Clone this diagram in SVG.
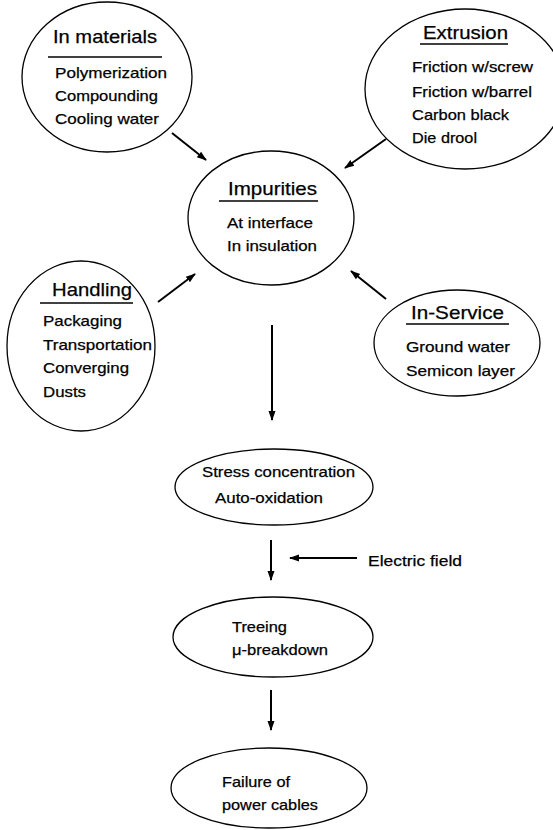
<svg xmlns="http://www.w3.org/2000/svg" width="553" height="830" viewBox="0 0 553 830">
<defs>
<style>
.n{fill:none;stroke:#000;stroke-width:1.3}
.t{font-family:"Liberation Sans",Arial,sans-serif;font-size:15px;fill:#000;stroke:#000;stroke-width:0.25}
.h{font-family:"Liberation Sans",Arial,sans-serif;font-size:19px;fill:#000;stroke:#000;stroke-width:0.25}
.u{stroke:#000;stroke-width:1.3}
.c{stroke:#000;stroke-width:2;fill:none;marker-end:url(#ah)}
</style>
<marker id="ah" viewBox="0 0 10 10" refX="9" refY="5" markerWidth="5" markerHeight="5" orient="auto" markerUnits="strokeWidth">
<path d="M0,1.5 L10,5 L0,8.5 Z" fill="#000"/>
</marker>
</defs>
<rect width="553" height="830" fill="#fff"/>
<g id="in-materials">
<ellipse class="n" cx="107" cy="77" rx="85" ry="75"/>
<text class="h" x="53" y="43" textLength="104" lengthAdjust="spacingAndGlyphs">In materials</text>
<line class="u" x1="48" y1="57" x2="162" y2="57"/>
<text class="t" x="55" y="78" textLength="112" lengthAdjust="spacingAndGlyphs">Polymerization</text>
<text class="t" x="55" y="101" textLength="103" lengthAdjust="spacingAndGlyphs">Compounding</text>
<text class="t" x="55" y="124" textLength="104" lengthAdjust="spacingAndGlyphs">Cooling water</text>
</g>
<g id="extrusion">
<ellipse class="n" cx="465" cy="89" rx="100" ry="80"/>
<text class="h" x="423" y="39" textLength="85" lengthAdjust="spacingAndGlyphs">Extrusion</text>
<line class="u" x1="420" y1="44" x2="508" y2="44"/>
<text class="t" x="412" y="72" textLength="121" lengthAdjust="spacingAndGlyphs">Friction w/screw</text>
<text class="t" x="412" y="97" textLength="120" lengthAdjust="spacingAndGlyphs">Friction w/barrel</text>
<text class="t" x="412" y="120" textLength="97" lengthAdjust="spacingAndGlyphs">Carbon black</text>
<text class="t" x="412" y="143" textLength="65" lengthAdjust="spacingAndGlyphs">Die drool</text>
</g>
<g id="impurities">
<ellipse class="n" cx="271" cy="218" rx="83" ry="67"/>
<text class="h" x="228" y="195" textLength="89" lengthAdjust="spacingAndGlyphs">Impurities</text>
<line class="u" x1="219" y1="201" x2="318" y2="201"/>
<text class="t" x="227" y="228" textLength="86" lengthAdjust="spacingAndGlyphs">At interface</text>
<text class="t" x="227" y="251" textLength="90" lengthAdjust="spacingAndGlyphs">In insulation</text>
</g>
<g id="handling">
<ellipse class="n" cx="81" cy="346" rx="74" ry="85"/>
<text class="h" x="52" y="296" textLength="80" lengthAdjust="spacingAndGlyphs">Handling</text>
<line class="u" x1="40" y1="303" x2="133" y2="303"/>
<text class="t" x="43" y="326" textLength="79" lengthAdjust="spacingAndGlyphs">Packaging</text>
<text class="t" x="43" y="350" textLength="109" lengthAdjust="spacingAndGlyphs">Transportation</text>
<text class="t" x="43" y="373" textLength="86" lengthAdjust="spacingAndGlyphs">Converging</text>
<text class="t" x="43" y="397" textLength="43" lengthAdjust="spacingAndGlyphs">Dusts</text>
</g>
<g id="in-service">
<ellipse class="n" cx="457" cy="343" rx="83" ry="53"/>
<text class="h" x="411" y="319" textLength="93" lengthAdjust="spacingAndGlyphs">In-Service</text>
<line class="u" x1="406" y1="324" x2="509" y2="324"/>
<text class="t" x="406" y="352" textLength="104" lengthAdjust="spacingAndGlyphs">Ground water</text>
<text class="t" x="406" y="376" textLength="109" lengthAdjust="spacingAndGlyphs">Semicon layer</text>
</g>
<g id="stress">
<ellipse class="n" cx="274" cy="487" rx="99" ry="38"/>
<text class="t" x="202" y="477" textLength="153" lengthAdjust="spacingAndGlyphs">Stress concentration</text>
<text class="t" x="215" y="503" textLength="108" lengthAdjust="spacingAndGlyphs">Auto-oxidation</text>
</g>
<g id="electric-field">
<text class="t" x="368" y="566" textLength="94" lengthAdjust="spacingAndGlyphs">Electric field</text>
</g>
<g id="treeing">
<ellipse class="n" cx="273" cy="637" rx="100" ry="40"/>
<text class="t" x="232" y="632" textLength="55" lengthAdjust="spacingAndGlyphs">Treeing</text>
<text class="t" x="232" y="655" textLength="96" lengthAdjust="spacingAndGlyphs">μ-breakdown</text>
</g>
<g id="failure">
<ellipse class="n" cx="269" cy="788" rx="98" ry="40"/>
<text class="t" x="222" y="787" textLength="68" lengthAdjust="spacingAndGlyphs">Failure of</text>
<text class="t" x="222" y="810" textLength="96" lengthAdjust="spacingAndGlyphs">power cables</text>
</g>
<g id="connectors">
<line class="c" x1="172" y1="133" x2="206" y2="160"/>
<line class="c" x1="386" y1="139" x2="345" y2="168"/>
<line class="c" x1="158" y1="302" x2="195" y2="274"/>
<line class="c" x1="386" y1="299" x2="351" y2="271"/>
<line class="c" x1="272" y1="325" x2="272" y2="420"/>
<line class="c" x1="271" y1="540" x2="271" y2="580"/>
<line class="c" x1="357" y1="558" x2="290" y2="558"/>
<line class="c" x1="271" y1="690" x2="271" y2="730"/>
</g>
</svg>
